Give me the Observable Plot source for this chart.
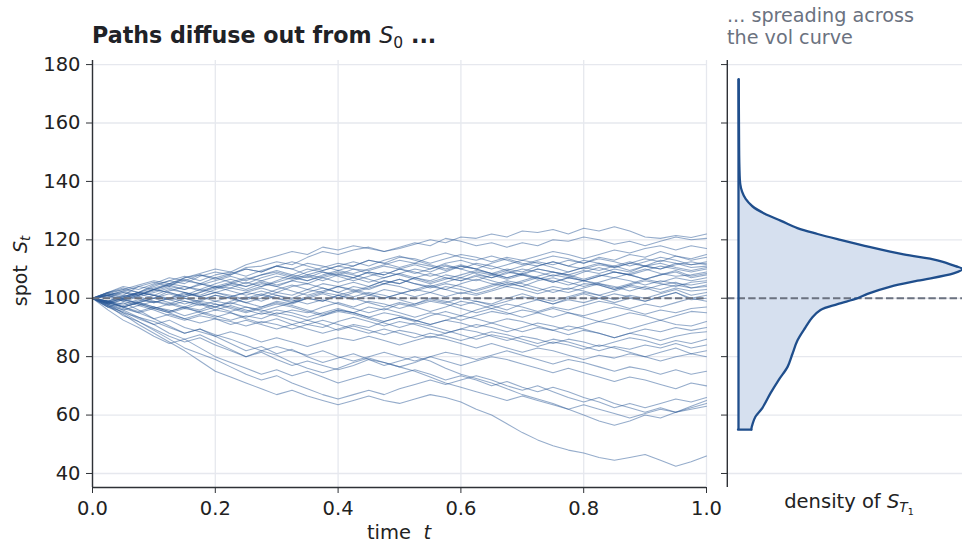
<!DOCTYPE html>
<html>
<head>
<meta charset="utf-8">
<script src="https://cdn.jsdelivr.net/npm/d3@7"></script>
<script src="https://cdn.jsdelivr.net/npm/@observablehq/plot@0.6"></script>
<style>
  html, body { margin: 0; padding: 0; background: #fff; }
  #wrap { position: relative; width: 962px; height: 545px; overflow: hidden; font-family: "DejaVu Sans", sans-serif; color: #222; }
  #wrap svg { position: absolute; top: 0; }
  .lbl { position: absolute; white-space: nowrap; line-height: 1; }
  .m { font-style: italic; font-weight: normal; }
  sub { font-size: 0.7em; vertical-align: -0.3em; line-height: 0; font-weight: normal; }
</style>
</head>
<body>
<div id="wrap">
  <div class="lbl" id="title" style="left:92px; top:24px; font-size:22.2px; font-weight:bold; color:#1f2227;">Paths diffuse out from <span class="m">S</span><sub>0</sub> ...</div>
  <div class="lbl" id="sub" style="left:727px; top:5px; font-size:19.2px; color:#6b7280; line-height:22px;">... spreading across<br>the vol curve</div>
  <div class="lbl" style="left:399px; top:523px; font-size:19.5px; transform:translateX(-50%);">time&nbsp; <span class="m">t</span></div>
  <div class="lbl" style="left:849px; top:492px; font-size:19.5px; transform:translateX(-50%);">density of <span class="m">S</span><sub><span class="m">T</span><sub style="font-style:normal">1</sub></sub></div>
  <div class="lbl" style="left:20px; top:271px; font-size:19px; transform:translate(-50%,-50%) rotate(-90deg);">spot&nbsp; <span class="m">S</span><sub class="m">t</sub></div>
</div>
<script>
// ---- data ----
const times = [0,0.025,0.05,0.075,0.1,0.125,0.15,0.175,0.2,0.225,0.25,0.275,0.3,0.325,0.35,0.375,0.4,0.425,0.45,0.475,0.5,0.525,0.55,0.575,0.6,0.625,0.65,0.675,0.7,0.725,0.75,0.775,0.8,0.825,0.85,0.875,0.9,0.925,0.95,0.975,1.0];

const paths = [
 [100,101.5,103,102,104.5,106,105,107.5,109,108,110.5,111,112.5,111.5,114,116,115,116.5,117.5,116,117,118.5,120,119,121,120.5,122,121,123,122.5,123.5,122,124,123,124.5,123,121,120.5,121.5,120.8,122],
 [100,102,101,104,105.5,104,107,108.5,110,109,111.5,113,114.5,116,115,117.5,116.5,118,117,116,117.5,119,118,120.5,119.5,118,119,117.5,119,118,120,119.5,121,120,118.5,119.5,118,119.5,121,120,120.5],
 [100,98.5,100,101.5,100,102.5,104,103,105,106.5,105,107,108.5,107,109,110.5,112,111,113,112,114,113.5,112,113.5,115,114,112.5,114,113,114.5,116,115,113.5,115,116.5,115.5,117,118,116.5,118,117],
 [100,101,99.5,101,103,102,100.5,102,104,103.5,105.5,104,106,108,107,109,108,110,109.5,111,110,108.5,110,111.5,110,112,111,109.5,111,112.5,111.5,113,112,114,113,115,114,116,114.5,113.5,115],
 [100,102,103.5,102,104,106,107.5,106,108,109,107.5,109.5,111,110,112,111,109.5,111,113,112,110.5,112,111,109.5,111,110,112,113.5,112,111,112.5,111,113,112,110.5,112,113.5,112.5,114.5,113,114],
 [100,99,97.5,99,101,100,102,101,103,104.5,103,105,104,106,105,107,108.5,107,109,108,110,109,107.5,109,111,110,108.5,110,109,111,112.5,111,110,111.5,110.5,112,111,113,112,111.5,112.5],
 [100,101,102.5,104,103,105,104,102.5,104,105.5,107,106,104.5,106,107.5,106,108,107,105.5,107,108.5,110,109,111,110,108.5,107,108.5,110,109,107.5,109,110.5,109.5,111,112.5,111,110,111.5,112.5,111.5],
 [100,98,99.5,98,96.5,98,100,99,101,100,98.5,100,102,101,103,102,104,105.5,104,106,105,107,106,108,107,109,108,106.5,108,110,109,108,109.5,108.5,110,109,111,110,112,110.5,111],
 [100,101.5,100,102,103.5,105,106.5,105,107,108.5,110,109,111,112.5,111,109.5,111,110,108.5,107,108.5,107,105.5,107,106,108,107,109,108,106.5,108,107,109,110.5,109,108,109.5,111,110,109,110],
 [100,99,100.5,102,101,99.5,101,103,102,100.5,102,101,103,104.5,103,105,104,102.5,104,106,105,107,108.5,107,106,107.5,106,104.5,106,107.5,109,108,106.5,108,107,108.5,110,108.5,107.5,108,109],
 [100,100.5,99,97.5,99,98,96.5,98,97,99,100.5,99,101,100,102,103.5,102,104,103,105,106.5,105,104,105.5,107,106,108,109.5,108,107,105.5,107,106,107.5,109,108,106.5,108,109.5,107.5,108.5],
 [100,101,102,100.5,102,103.5,102,100.5,102,101,99.5,101,100,98.5,100,101.5,100,102,103.5,105,104,102.5,104,103,105,106.5,105,104,105.5,107,106,104.5,106,105,103.5,105,106.5,105.5,107,106,107],
 [100,98.5,97,98.5,97,95.5,97,96,98,97,95.5,97,99,98,100,99,101,102.5,101,103,102,100.5,102,104,103,101.5,103,105,104,102.5,104,103,105,104.5,103,104.5,106,105,104,105.5,106],
 [100,101,99.5,101,102.5,104,103,104.5,106,107.5,106,108,109,107.5,106,107.5,109,108,106.5,105,106.5,105,103.5,105,104,102.5,104,105.5,104,106,107,105.5,104,105.5,107,106,104.5,106,105,104.5,105.5],
 [100,99,101,100,98.5,100,99,97.5,99,98,100,101.5,100,99,100.5,102,101,99.5,101,100,101.5,103,102,100.5,102,101,102.5,104,103,101.5,103,102,103.5,105,104,102.5,104,103,104.5,103.5,104.5],
 [100,102,103,104.5,106,105,107,108,106.5,108,110,109,111,110,108,109.5,111,112.5,111,113,114.5,113,111.5,110,111.5,110,108.5,107,108.5,107,105.5,107,106,104.5,103,104.5,103.5,102,103.5,102.5,103],
 [100,98,99.5,98.5,100,101.5,100,98.5,97,95.5,97,96,94.5,96,95,97,98.5,97,99,98,96.5,98,100,99,97.5,99,98,100,101.5,100,99,100.5,102,101,99.5,101,100,101.5,103,101,102],
 [100,101.5,100.5,102,101,103,102,100.5,99,100.5,102,103.5,102,104,105,103.5,102,100.5,102,101,99.5,98,99.5,98.5,100,99,97.5,99,100.5,99.5,98,99.5,98.5,100,101.5,100.5,99,100.5,102,100,101],
 [100,99,97,95.5,97,96,94,95.5,94,92.5,94,93,95,94,92.5,94,96,95,97,96,98,97,95.5,97,99,98,96.5,98,97,95.5,97,96,97.5,99,98,96.5,98,97,98.5,100,99],
 [100,101,102.5,101,103,104.5,103,105,104,102.5,101,102.5,101,99.5,98,99.5,98,96.5,95,96.5,95,93.5,95,94,92.5,94,95.5,94.5,96,95,93.5,95,94,95.5,97,96,94.5,96,95,96.5,97],
 [100,98.5,100,98,96.5,95,96.5,95.5,97,98.5,97,95.5,97,98.5,100,99,101,100,98.5,97,98.5,97.5,99,98,96.5,95,96.5,95,93.5,95,96.5,95,93.5,92,93.5,95,94,92.5,94,95.5,95],
 [100,98,96.5,95,93,94.5,93,91.5,93,92,90.5,92,91,89.5,91,90,92,93.5,92,90.5,92,91,89.5,88,89.5,91,90,88.5,90,91.5,90.5,89,90.5,92,91,89.5,91,92.5,91,90.5,92],
 [100,101,99,100.5,99,97.5,99,98,96,97.5,96,94.5,96,95,93.5,95,96.5,95,93.5,92,93.5,92.5,91,92.5,94,93,91.5,90,88.5,90,89,87.5,89,88,86.5,88,89.5,88.5,90,89,90],
 [100,99,100.5,102,101,99.5,98,99.5,101,100,98.5,97,98.5,97.5,96,94.5,96,95,93.5,95,94,92.5,91,92.5,91.5,90,91.5,93,92,90.5,89,90.5,89.5,88,86.5,88,87,85.5,87,88,88.5],
 [100,97.5,96,97.5,96,94,92.5,94,93,91,92.5,91,89.5,91,92.5,91,89,90.5,89,87.5,89,88,86.5,88,89.5,88.5,87,85.5,87,86,84.5,86,85,83.5,85,86.5,85.5,84,85.5,84.5,86],
 [100,98.5,97,95,96.5,95,93,94.5,96,95,93.5,95,94,92.5,91,92.5,91,89.5,88,89.5,88,86.5,88,87,85.5,87,88.5,87.5,86,84.5,86,85,83.5,82,83.5,82.5,84,83,84.5,83,84],
 [100,99,97,98.5,97,95.5,97,99,98,96.5,95,96.5,98,97,95.5,94,95.5,94.5,93,91.5,90,91.5,90.5,89,87.5,86,87.5,86.5,85,83.5,85,84,82.5,84,83,81.5,80,81.5,83,81,82],
 [100,97,95.5,93,91,92.5,90,88.5,87,88.5,87,85,86.5,85,83.5,85,86.5,85.5,87,85.5,84,85.5,87,86,84.5,83,84.5,83,81.5,83,82,80.5,79,80.5,79.5,81,80,78.5,80,81,80],
 [100,98,96,93.5,92,90,88,89.5,87.5,86,84,82,83.5,82,80.5,82,80,78.5,80,81.5,80,78.5,80,81.5,80.5,79,80.5,82,80.5,79,77.5,79,78,76.5,75,76.5,75.5,74,75.5,74,75],
 [100,97.5,94,92,89.5,87,85,86.5,84,82,80,81.5,79,77,78.5,77,75.5,77,79,78,76.5,78,80,78.5,77,78.5,80,79,77.5,76,74.5,76,74.5,73,71.5,73,72,70.5,69,71,70],
 [100,96,92.5,90,87,84.5,86,83,80,78,76,74,75.5,73.5,75,73,71,72.5,74,72.5,74,75.5,74,72,73.5,72,70,71.5,69.5,68,69.5,68,66,64.5,62.5,64,62.5,64,65.5,64.5,66],
 [100,97,98.5,96,93,90.5,88,89.5,87,84.5,82,83.5,81,82.5,80,78,79.5,81,79,77,78.5,80,78.5,76,74,72.5,71,69,67,65.5,64,62,60,58,56.5,58,60,59,61,63,65],
 [100,97.5,95,92,89,86,83,81,79,76.5,74,72,73.5,71,69,67,65.5,67,68.5,67,69,70.5,72,70.5,72,73.5,72,70,68.5,70,68,66,64.5,66,64,62.5,61,62.5,61,62.5,64],
 [100,98,95,93.5,91,88,86,87.5,85,82.5,80,82,80.5,78,76,74.5,76,78,79.5,78,76.5,75,73,71,69.5,68,66.5,65,66.5,65,63.5,62,63.5,62,60.5,59,60.5,62,61,62,63],
 [100,97,94.5,91,88,85,82,78.5,75,73,71,69,67,68.5,66.5,65,63.5,65,66.5,65,64,65.5,67,66,64.5,62,60,57,54,51.5,49.5,48,47,45.5,44.5,45.5,46.5,44.5,42.5,44,46],
 [100,100.5,102,101,103,102,100.5,102,103.5,105,104,106,107.5,106.5,108,107,105.5,107,109,108,110,111.5,110,112,113,111.5,110,111.5,113,112,110.5,109,110.5,112,111,109.5,111,112,110.5,109.5,110.5],
 [100,98.5,100,101.5,103,104.5,106,105,103.5,105,106.5,108,109.5,108,110,109,107.5,106,107.5,109,108,106.5,105,106.5,108,109.5,108.5,107,108.5,110,109,107.5,106,107.5,109,108,106.5,108,109,107,108],
 [100,102,104,103,105,107,106,108,107,105.5,104,105.5,104,102.5,101,102.5,104,103,101.5,100,101.5,103,104.5,103,101.5,103,104.5,106,105,103.5,102,103.5,102.5,101,102.5,104,103,104.5,105.5,103.5,104],
 [100,99,98,99.5,98.5,100,101.5,100.5,102,103.5,102.5,104,105.5,107,106,108,109.5,108.5,110,111.5,113,112,114,115.5,114,113,114.5,113,111.5,113,114.5,113.5,112,113.5,112.5,111,112.5,114,113,111.5,112],
 [100,98.5,97,98.5,100,98.5,97,95,93.5,95,93,91.5,93,91,89.5,88,89.5,91,90,92,93.5,92,94,95.5,94,96,97.5,96,98,99.5,98,100,101.5,100,98.5,100,99,100.5,102,99.5,100]
];

// density of S_T1 (relative, peak = 1), listed from high spot to low spot
const densitySpot = [175,160,145,139,136.5,134,131.5,129,126.5,124,122,120,117.5,115,113,111,110,108.5,106,104,101.5,100,98,96,93.5,90,85.5,81,76.5,72,67.5,62.5,59.5,57,55.5,55];
const densityValue = [0.001,0.002,0.004,0.008,0.016,0.032,0.062,0.115,0.19,0.263,0.353,0.455,0.589,0.737,0.888,0.969,1.0,0.96,0.8,0.679,0.576,0.531,0.442,0.366,0.33,0.299,0.263,0.241,0.219,0.179,0.143,0.107,0.076,0.063,0.058,0.058];

const spot0 = 100;
const xTicks = [0, 0.2, 0.4, 0.6, 0.8, 1.0];
const yTicks = [40, 60, 80, 100, 120, 140, 160, 180];

// ---- build tables ----
const pathRows = [];
paths.forEach((p, i) => p.forEach((s, j) => pathRows.push({id: i, t: times[j], s})));
const densRows = densitySpot.map((s, i) => ({s, d: densityValue[i]}));

const yDomain = [35.2, 181.4];
const gridColor = "#e6e8ee";
const axisColor = "#2e3136";
const pathColor = "#2b5a98";
const densColor = "#1f4e8c";

const left = Plot.plot({
  width: 720, height: 545,
  marginLeft: 92, marginRight: 14, marginTop: 60, marginBottom: 58,
  style: {fontFamily: "DejaVu Sans", fontSize: "19px", color: "#222", background: "transparent", overflow: "visible"},
  x: {domain: [0, 1], axis: null},
  y: {domain: yDomain, axis: null},
  marks: [
    Plot.gridX(xTicks, {stroke: gridColor, strokeOpacity: 1, strokeWidth: 1.3}),
    Plot.gridY(yTicks, {stroke: gridColor, strokeOpacity: 1, strokeWidth: 1.3}),
    Plot.line(pathRows, {x: "t", y: "s", z: "id", stroke: pathColor, strokeOpacity: 0.5, strokeWidth: 1.05}),
    Plot.ruleY([spot0], {stroke: "#6b7280", strokeWidth: 2, strokeDasharray: "7.4,3.2"}),
    Plot.ruleX([0], {stroke: axisColor, strokeWidth: 1.4}),
    Plot.ruleY([yDomain[0]], {stroke: axisColor, strokeWidth: 1.4}),
    Plot.axisX(xTicks, {tickFormat: d => d.toFixed(1), tickSize: 6, tickPadding: 8, stroke: axisColor, fill: "#222", label: null, fontSize: 19.5}),
    Plot.axisY(yTicks, {tickSize: 6, tickPadding: 6, stroke: axisColor, fill: "#222", label: null, fontSize: 19.5})
  ]
});
left.style.left = "0px";

const right = Plot.plot({
  width: 256, height: 545,
  marginLeft: 21, marginRight: 0, marginTop: 60, marginBottom: 58,
  style: {fontFamily: "DejaVu Sans", fontSize: "18px", color: "#222", background: "transparent"},
  x: {domain: [-0.05, 1.05], range: [20.8, 267.2], axis: null},
  y: {domain: yDomain, axis: null},
  marks: [
    Plot.gridY(yTicks, {stroke: gridColor, strokeOpacity: 1, strokeWidth: 1.3}),
    Plot.areaX(densRows, {y: "s", x: "d", fill: "#d6e0ef", fillOpacity: 1, curve: "catmull-rom"}),
    Plot.ruleY([spot0], {stroke: "#6b7280", strokeWidth: 2, strokeDasharray: "7.4,3.2"}),
    Plot.lineX(densRows, {y: "s", x: "d", stroke: densColor, strokeWidth: 2.3, curve: "catmull-rom"}),
    Plot.ruleX([0], {y1: d3.min(densitySpot), y2: d3.max(densitySpot), stroke: densColor, strokeWidth: 2.3}),
    Plot.ruleY([d3.min(densitySpot)], {x1: 0, x2: densityValue[densityValue.length - 1], stroke: densColor, strokeWidth: 2.3, strokeLinecap: "round"}),
    Plot.ruleX([-0.05], {stroke: axisColor, strokeWidth: 1.4}),
    Plot.axisY(yTicks, {tickSize: 6, tickFormat: () => "", stroke: axisColor, label: null})
  ]
});
right.style.left = "706px";

const wrap = document.getElementById("wrap");
wrap.prepend(right);
wrap.prepend(left);
</script>
</body>
</html>
